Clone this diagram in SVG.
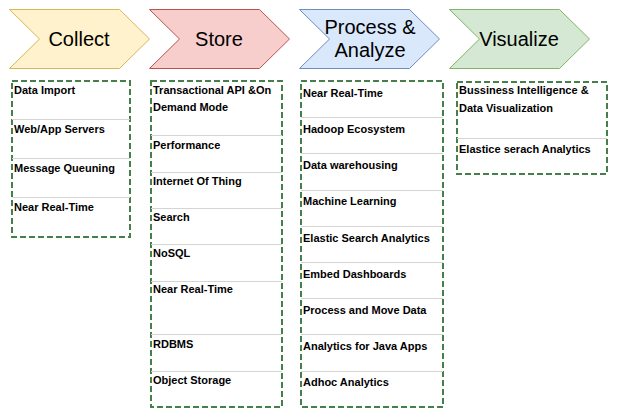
<svg xmlns="http://www.w3.org/2000/svg" width="617" height="417" viewBox="0 0 617 417">
<style>
.stage{font-family:"Liberation Sans",Arial,Helvetica,sans-serif;font-size:20px;fill:#000;text-anchor:middle}
.item{font-family:"Liberation Sans",Arial,sans-serif;font-size:11px;font-weight:bold;fill:#000}
.box{fill:#fff;stroke:#467e4c;stroke-width:2;stroke-dasharray:6 3}
.sep{stroke:#d4d4d4;stroke-width:1}
</style>
<rect width="617" height="417" fill="#fff"/>
<g id="stage-collect">
<path d="M9.5,9.5 H119.5 L149.5,39 L119.5,68.5 H9.5 L39.5,39 Z" fill="#fff2cc" stroke="#d6b656"/>
<text class="stage" x="79" y="46">Collect</text>
</g>
<g id="stage-store">
<path d="M149.5,9.5 H259.5 L289.5,39 L259.5,68.5 H149.5 L179.5,39 Z" fill="#f8cecc" stroke="#b85450"/>
<text class="stage" x="219" y="46">Store</text>
</g>
<g id="stage-process">
<path d="M299.5,9.5 H409.5 L439.5,39 L409.5,68.5 H299.5 L329.5,39 Z" fill="#dae8fc" stroke="#6c8ebf"/>
<text class="stage" x="370" y="34">Process &amp;</text>
<text class="stage" x="370" y="57">Analyze</text>
</g>
<g id="stage-visualize">
<path d="M449.5,9.5 H559.5 L589.5,39 L559.5,68.5 H449.5 L479.5,39 Z" fill="#d5e8d4" stroke="#82b366"/>
<text class="stage" x="519" y="46">Visualize</text>
</g>
<g id="list-collect">
<rect class="box" x="12" y="81" width="118" height="156"/>
<line class="sep" x1="12" y1="119.5" x2="130" y2="119.5"/>
<line class="sep" x1="12" y1="158.5" x2="130" y2="158.5"/>
<line class="sep" x1="12" y1="197.5" x2="130" y2="197.5"/>
<text class="item" x="14" y="94">Data Import</text>
<text class="item" x="14" y="133">Web/App Servers</text>
<text class="item" x="14" y="172">Message Queuning</text>
<text class="item" x="14" y="211">Near Real-Time</text>
</g>
<g id="list-store">
<rect class="box" x="151" y="81" width="131" height="326"/>
<line class="sep" x1="151" y1="135.5" x2="282" y2="135.5"/>
<line class="sep" x1="151" y1="172.5" x2="282" y2="172.5"/>
<line class="sep" x1="151" y1="208.5" x2="282" y2="208.5"/>
<line class="sep" x1="151" y1="244.5" x2="282" y2="244.5"/>
<line class="sep" x1="151" y1="281.5" x2="282" y2="281.5"/>
<line class="sep" x1="151" y1="334.5" x2="282" y2="334.5"/>
<line class="sep" x1="151" y1="371.5" x2="282" y2="371.5"/>
<text class="item" x="153" y="94">Transactional API &amp;On</text>
<text class="item" x="153" y="111">Demand Mode</text>
<text class="item" x="153" y="149">Performance</text>
<text class="item" x="153" y="185">Internet Of Thing</text>
<text class="item" x="153" y="221">Search</text>
<text class="item" x="153" y="257">NoSQL</text>
<text class="item" x="153" y="293">Near Real-Time</text>
<text class="item" x="153" y="348">RDBMS</text>
<text class="item" x="153" y="384">Object Storage</text>
</g>
<g id="list-process">
<rect class="box" x="301" y="81" width="142" height="326"/>
<line class="sep" x1="301" y1="117.5" x2="443" y2="117.5"/>
<line class="sep" x1="301" y1="153.5" x2="443" y2="153.5"/>
<line class="sep" x1="301" y1="190.5" x2="443" y2="190.5"/>
<line class="sep" x1="301" y1="226.5" x2="443" y2="226.5"/>
<line class="sep" x1="301" y1="262.5" x2="443" y2="262.5"/>
<line class="sep" x1="301" y1="298.5" x2="443" y2="298.5"/>
<line class="sep" x1="301" y1="334.5" x2="443" y2="334.5"/>
<line class="sep" x1="301" y1="371.5" x2="443" y2="371.5"/>
<text class="item" x="303" y="97">Near Real-Time</text>
<text class="item" x="303" y="133">Hadoop Ecosystem</text>
<text class="item" x="303" y="169">Data warehousing</text>
<text class="item" x="303" y="205">Machine Learning</text>
<text class="item" x="303" y="242">Elastic Search Analytics</text>
<text class="item" x="303" y="278">Embed Dashboards</text>
<text class="item" x="303" y="314">Process and Move Data</text>
<text class="item" x="303" y="350">Analytics for Java Apps</text>
<text class="item" x="303" y="386">Adhoc Analytics</text>
</g>
<g id="list-visualize">
<rect class="box" x="457" y="82" width="150" height="92"/>
<line class="sep" x1="457" y1="138.5" x2="607" y2="138.5"/>
<text class="item" x="459" y="94">Bussiness Intelligence &amp;</text>
<text class="item" x="459" y="112">Data Visualization</text>
<text class="item" x="459" y="153">Elastice serach Analytics</text>
</g>
<g id="connectors"></g>
</svg>
